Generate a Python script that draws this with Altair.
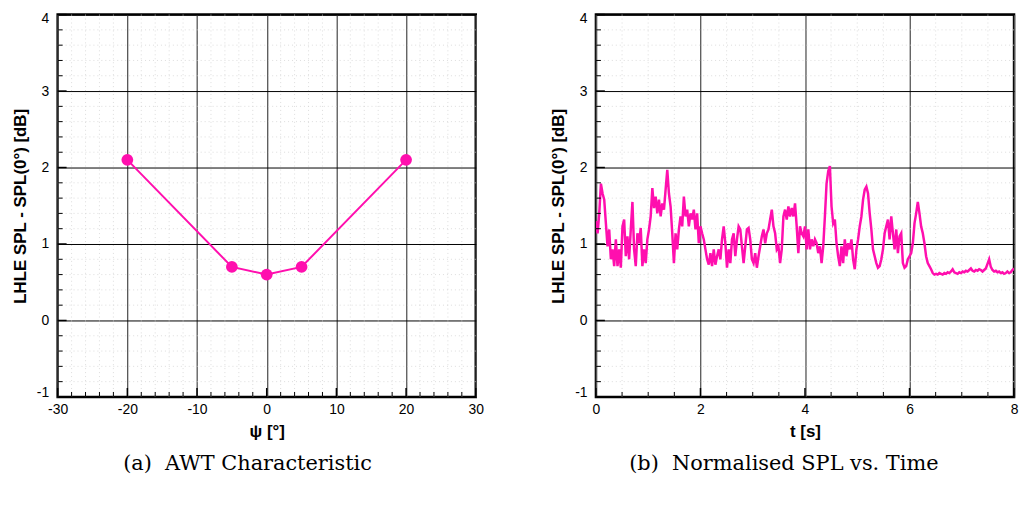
import altair as alt
import numpy as np
import pandas as pd

# ---------------- data ----------------
PSI = [-20, -5, 0, 5, 20]
AWT = [2.1, 0.7, 0.6, 0.7, 2.1]

T_START, T_END = 0.0, 8.0
SPL = [
    1.30,
    1.14, 1.40, 1.79, 1.66, 1.58, 1.27, 0.97, 1.19, 0.80, 0.93, 0.71, 1.06, 0.71, 0.93, 0.69,
    1.23, 1.32, 0.84, 1.10, 0.80, 1.19, 1.55, 0.93, 0.71, 1.14, 1.01, 1.21, 0.71, 0.93, 0.75,
    1.06, 1.19, 1.36, 1.73, 1.47, 1.62, 1.40, 1.58, 1.36, 1.53, 1.45, 1.71, 1.97, 1.66, 1.49,
    1.14, 0.75, 1.14, 0.93, 1.19, 1.36, 1.23, 1.62, 1.36, 1.45, 1.23, 1.40, 1.32, 1.45, 1.19,
    1.40, 1.01, 1.23,
    1.14, 1.06, 0.93, 0.80, 0.73, 0.88, 0.71, 0.93, 0.73, 0.84, 0.93, 0.80, 1.06, 1.23, 1.01,
    0.69, 0.93, 0.75, 1.06, 1.14, 0.84, 1.06, 1.23, 1.19, 0.97, 0.75, 0.97, 1.19, 1.21, 1.06,
    0.80, 0.75, 0.88, 0.69, 0.84, 0.97, 1.10, 1.19, 1.01, 1.14, 1.19, 1.32, 1.45, 1.23, 1.14,
    0.93, 0.97, 0.75, 0.93, 1.36, 1.45, 1.32, 1.49, 1.36, 1.47, 1.36, 1.53, 1.23, 0.88, 1.23,
    1.14,
    1.10, 1.23, 0.93, 1.19, 0.93, 1.06, 0.97, 1.06, 1.01, 0.88, 0.97, 0.75, 0.97, 1.36, 1.79,
    1.95, 2.02, 1.49, 1.27, 1.32, 1.01, 0.84, 0.71, 0.97, 0.75, 1.06, 0.84, 1.01, 0.93, 1.06,
    0.80, 0.67, 0.93, 1.06, 1.23, 1.36, 1.58, 1.71, 1.75, 1.66, 1.40, 1.19, 0.93, 0.84, 0.75,
    0.69, 0.71, 0.80, 0.93, 1.14, 1.23, 1.32, 1.06, 1.36, 1.14, 0.93, 1.19, 0.88, 1.10, 1.14,
    0.75, 0.69, 0.71, 0.80, 0.84, 0.88, 1.01, 1.27, 1.40, 1.55, 1.40, 1.23, 1.14, 1.01, 0.84,
    0.75, 0.71, 0.67,
    0.62, 0.60, 0.61, 0.60, 0.62, 0.61, 0.60, 0.62, 0.61, 0.63, 0.62, 0.64, 0.67, 0.63, 0.62,
    0.61, 0.63, 0.62, 0.64, 0.63, 0.65, 0.64, 0.66, 0.68, 0.65, 0.64, 0.66, 0.65, 0.67, 0.66,
    0.64, 0.66, 0.68, 0.74, 0.80, 0.70, 0.66, 0.64, 0.65, 0.63, 0.64, 0.62, 0.63, 0.61, 0.62,
    0.64, 0.62, 0.63, 0.66, 0.68,
]
TIME = list(np.linspace(T_START, T_END, len(SPL)))

Y_MAJOR = [-1, 0, 1, 2, 3, 4]
Y_MINOR = [-0.8, -0.6, -0.4, -0.2, 0.2, 0.4, 0.6, 0.8, 1.2, 1.4, 1.6, 1.8,
           2.2, 2.4, 2.6, 2.8, 3.2, 3.4, 3.6, 3.8]
PSI_MAJOR = [-30, -20, -10, 0, 10, 20, 30]
PSI_MINOR = [-28, -26, -24, -22, -18, -16, -14, -12, -8, -6, -4, -2,
             2, 4, 6, 8, 12, 14, 16, 18, 22, 24, 26, 28]
T_MAJOR = [0, 2, 4, 6, 8]
T_MINOR = [0.5, 1, 1.5, 2.5, 3, 3.5, 4.5, 5, 5.5, 6.5, 7, 7.5]

YTITLE = "LHLE SPL - SPL(0°) [dB]"
PINK = "#ff0fae"
W, H = 421, 385
SANS = "Liberation Sans"
MINUS_FIX = "replace(datum.label, '\u2212', '-')"


def panel(xdom, xmajor, xminor, xtitle, line_layers, caption):
    ysc = alt.Scale(domain=[-1, 4], nice=False, zero=False)
    xsc = alt.Scale(domain=xdom, nice=False, zero=False)
    xax = alt.Axis(values=xmajor, title=xtitle, grid=True, gridColor="#555",
                   gridWidth=1.3, ticks=False, domain=False, labelPadding=6,
                   titlePadding=7, labelFontSize=14, titleFontSize=17,
                   labelFont=SANS, titleFont=SANS, titleFontWeight="bold",
                   labelColor="black", titleColor="black", labelFlush=False,
                   labelExpr=MINUS_FIX)
    yax = alt.Axis(values=Y_MAJOR, title=YTITLE, grid=True, gridColor="black",
                   gridWidth=1, ticks=False, domain=False, labelPadding=9,
                   titlePadding=7, labelFontSize=14, titleFontSize=17,
                   labelFont=SANS, titleFont=SANS, titleFontWeight="bold",
                   labelColor="black", titleColor="black", labelFlush=True,
                   labelFlushOffset=3, labelExpr=MINUS_FIX)

    def X(f="x"):
        return alt.X(f"{f}:Q", scale=xsc, axis=xax, title=xtitle)

    def Y(f="y"):
        return alt.Y(f"{f}:Q", scale=ysc, axis=yax, title=YTITLE)

    xminor_df = pd.DataFrame({"x": xminor})
    yminor_df = pd.DataFrame({"y": Y_MINOR})
    xmajor_df = pd.DataFrame({"x": xmajor})
    ymajor_df = pd.DataFrame({"y": Y_MAJOR})

    dot = dict(strokeDash=[1, 3], color="#d4d4d4", strokeWidth=0.8)
    vminor = alt.Chart(xminor_df).mark_rule(**dot).encode(x=X())
    hminor = alt.Chart(yminor_df).mark_rule(**dot).encode(y=Y())

    # inward tick marks
    ytick_major = alt.Chart(ymajor_df).mark_rule(color="black", strokeWidth=1.5).encode(
        y=Y(), x=alt.value(0), x2=alt.value(9))
    ytick_minor = alt.Chart(yminor_df).mark_rule(color="black", strokeWidth=1).encode(
        y=Y(), x=alt.value(0), x2=alt.value(5))
    xtick_major = alt.Chart(xmajor_df).mark_rule(color="black", strokeWidth=1.5).encode(
        x=X(), y=alt.value(H), y2=alt.value(H - 9))
    xtick_minor = alt.Chart(xminor_df).mark_rule(color="black", strokeWidth=1).encode(
        x=X(), y=alt.value(H), y2=alt.value(H - 5))

    layers = [vminor, hminor] + line_layers(X, Y) + [
        ytick_major, ytick_minor, xtick_major, xtick_minor]
    return alt.layer(*layers).properties(
        width=W, height=H,
        title=alt.TitleParams(caption, orient="bottom", frame="bounds",
                              anchor="middle", font="DejaVu Serif",
                              fontSize=21, fontWeight="normal", color="black",
                              offset=14),
    )


def left_lines(X, Y):
    df = pd.DataFrame({"x": PSI, "y": AWT})
    ln = alt.Chart(df).mark_line(color=PINK, strokeWidth=2).encode(x=X(), y=Y())
    pt = alt.Chart(df).mark_circle(color=PINK, size=140, opacity=1).encode(x=X(), y=Y())
    return [ln, pt]


def right_lines(X, Y):
    df = pd.DataFrame({"x": TIME, "y": SPL})
    ln = alt.Chart(df).mark_line(color=PINK, strokeWidth=2.5, clip=True).encode(
        x=X(), y=Y())
    return [ln]


left = panel([-30, 30], PSI_MAJOR, PSI_MINOR, "ψ [°]", left_lines,
             "(a)\u00a0 AWT Characteristic")
right = panel([0, 8], T_MAJOR, T_MINOR, "t [s]", right_lines,
              "(b)\u00a0 Normalised SPL vs. Time")

chart = alt.hconcat(left, right, spacing=63).configure(
    background="white", padding={"left": 2, "top": 0, "right": 0, "bottom": 0}
).configure_view(stroke="black", strokeWidth=2.5)

chart.save("out.html", embed_options={"renderer": "svg", "actions": False})
